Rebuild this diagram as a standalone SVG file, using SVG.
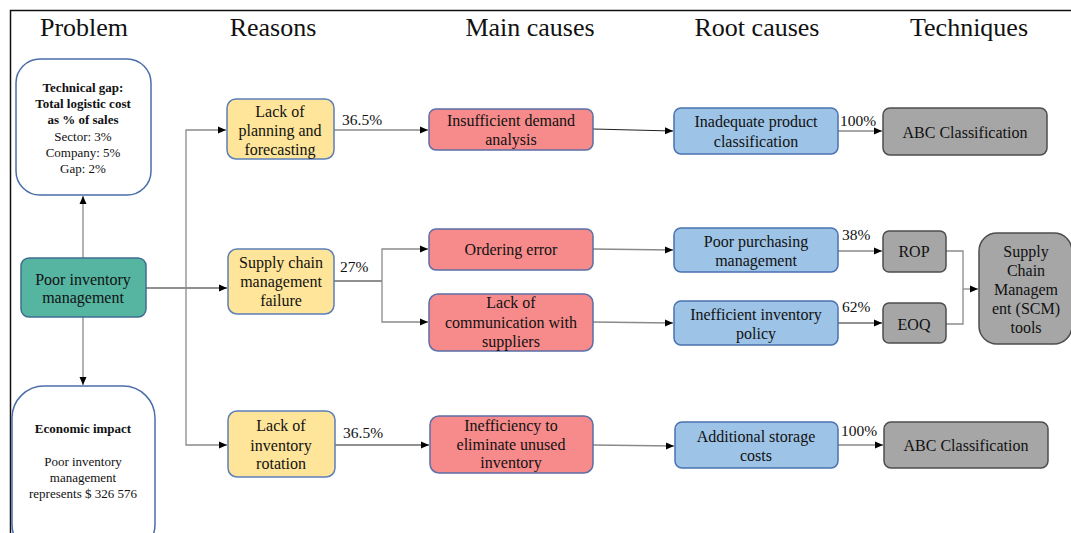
<svg xmlns="http://www.w3.org/2000/svg" width="1071" height="533" viewBox="0 0 1071 533">
<defs>
<marker id="ah" markerWidth="8" markerHeight="8" refX="8" refY="4" orient="auto" markerUnits="userSpaceOnUse"><path d="M0,0.5 L8,4 L0,7.5 z" fill="#000"/></marker>
<style>
text{font-family:"Liberation Serif","Times New Roman",serif;fill:#111;text-anchor:middle}
.h{font-size:26px}
.t{font-size:16px}
.s{font-size:13px}
.b{font-weight:bold}
.p{font-size:15.5px;text-anchor:start}
.white{fill:#fff;stroke:#4a6ea8;stroke-width:1.5}
.teal{fill:#55b5a1;stroke:#3f6d92;stroke-width:1.5}
.yel{fill:#ffe599;stroke:#5b7fb8;stroke-width:1.5}
.red{fill:#f78b8b;stroke:#5b6fa8;stroke-width:1.5}
.blue{fill:#9dc3e6;stroke:#4a72b0;stroke-width:1.5}
.gray{fill:#a6a6a6;stroke:#4d4d4d;stroke-width:1.5}
.c{fill:none;stroke:#8a8a8a;stroke-width:1.3}
.k{fill:none;stroke:#222;stroke-width:1.2}
</style>
</defs>
<rect x="0" y="0" width="1071" height="533" fill="#fff"/>
<path d="M10.5,533 V10.5 H1071" fill="none" stroke="#111" stroke-width="1.5"/>
<g id="headers">
<text class="h" x="84" y="36">Problem</text>
<text class="h" x="273" y="36">Reasons</text>
<text class="h" x="530" y="36">Main causes</text>
<text class="h" x="757" y="36">Root causes</text>
<text class="h" x="969" y="36">Techniques</text>
</g>
<g id="connectors">
<path class="c" d="M83,258 V196" marker-end="url(#ah)"/>
<path class="c" d="M83,317 V385" marker-end="url(#ah)"/>
<path class="k" d="M146,288 H227" marker-end="url(#ah)"/>
<path class="c" d="M186,288 V130 H226" marker-end="url(#ah)"/>
<path class="c" d="M186,288 V445 H227" marker-end="url(#ah)"/>
<path class="c" d="M334,130 H428" marker-end="url(#ah)"/>
<path class="k" d="M334,281 H382"/>
<path class="c" d="M382,281 V249 H428" marker-end="url(#ah)"/>
<path class="c" d="M382,281 V322 H428" marker-end="url(#ah)"/>
<path class="k" d="M335,445 H429" marker-end="url(#ah)"/>
<path class="k" d="M593,129 L673,131" marker-end="url(#ah)"/>
<path class="c" d="M593,249 L673,250" marker-end="url(#ah)"/>
<path class="c" d="M593,322 L673,323" marker-end="url(#ah)"/>
<path class="c" d="M593,445 L674,446" marker-end="url(#ah)"/>
<path class="c" d="M838,131 H882" marker-end="url(#ah)"/>
<path class="c" d="M838,251 H882" marker-end="url(#ah)"/>
<path class="k" d="M838,323 H882" marker-end="url(#ah)"/>
<path class="c" d="M838,445 H883" marker-end="url(#ah)"/>
<path class="c" d="M946,251 H963 V324 H946"/>
<path class="c" d="M963,289 H978" marker-end="url(#ah)"/>
<text class="p" x="342" y="125">36.5%</text>
<text class="p" x="340" y="272">27%</text>
<text class="p" x="343" y="438">36.5%</text>
<text class="p" x="840" y="126">100%</text>
<text class="p" x="842" y="240">38%</text>
<text class="p" x="842" y="312">62%</text>
<text class="p" x="841" y="436">100%</text>
</g>
<g id="tech-gap">
<rect class="white" x="16" y="59" width="135" height="136" rx="24"/>
<text class="s b" x="83" y="92">Technical gap:</text>
<text class="s b" x="83" y="108">Total logistic cost</text>
<text class="s b" x="83" y="124">as % of sales</text>
<text class="s" x="83" y="141">Sector: 3%</text>
<text class="s" x="83" y="157">Company: 5%</text>
<text class="s" x="83" y="173">Gap: 2%</text>
</g>
<g id="poor-inventory">
<rect class="teal" x="21" y="258" width="125" height="59" rx="8"/>
<text class="t" x="83" y="285">Poor inventory</text>
<text class="t" x="83" y="303">management</text>
</g>
<g id="economic-impact">
<rect class="white" x="12" y="386" width="143" height="170" rx="32"/>
<text class="s b" x="83" y="433">Economic impact</text>
<text class="s" x="83" y="466">Poor inventory</text>
<text class="s" x="83" y="482">management</text>
<text class="s" x="83" y="498">represents $ 326 576</text>
</g>
<g id="lack-planning">
<rect class="yel" x="227" y="99" width="107" height="60" rx="9"/>
<text class="t" x="280" y="117">Lack of</text>
<text class="t" x="280" y="136">planning and</text>
<text class="t" x="280" y="155">forecasting</text>
</g>
<g id="supply-chain-failure">
<rect class="yel" x="228" y="249" width="106" height="65" rx="9"/>
<text class="t" x="281" y="268">Supply chain</text>
<text class="t" x="281" y="287">management</text>
<text class="t" x="281" y="306">failure</text>
</g>
<g id="lack-rotation">
<rect class="yel" x="228" y="411" width="107" height="66" rx="9"/>
<text class="t" x="281" y="431">Lack of</text>
<text class="t" x="281" y="451">inventory</text>
<text class="t" x="281" y="469">rotation</text>
</g>
<g id="insufficient-demand">
<rect class="red" x="429" y="109" width="164" height="41" rx="7"/>
<text class="t" x="511" y="126">Insufficient demand</text>
<text class="t" x="511" y="145">analysis</text>
</g>
<g id="ordering-error">
<rect class="red" x="429" y="229" width="164" height="41" rx="7"/>
<text class="t" x="511" y="255">Ordering error</text>
</g>
<g id="lack-communication">
<rect class="red" x="429" y="294" width="164" height="57" rx="9"/>
<text class="t" x="511" y="308">Lack of</text>
<text class="t" x="511" y="328">communication with</text>
<text class="t" x="511" y="347">suppliers</text>
</g>
<g id="inefficiency-unused">
<rect class="red" x="430" y="416" width="163" height="57" rx="9"/>
<text class="t" x="511" y="431">Inefficiency to</text>
<text class="t" x="511" y="450">eliminate unused</text>
<text class="t" x="511" y="468">inventory</text>
</g>
<g id="inadequate-classification">
<rect class="blue" x="674" y="108" width="164" height="46" rx="7"/>
<text class="t" x="756" y="127">Inadequate product</text>
<text class="t" x="756" y="147">classification</text>
</g>
<g id="poor-purchasing">
<rect class="blue" x="674" y="228" width="164" height="44" rx="7"/>
<text class="t" x="756" y="247">Poor purchasing</text>
<text class="t" x="756" y="266">management</text>
</g>
<g id="inefficient-policy">
<rect class="blue" x="674" y="301" width="164" height="44" rx="7"/>
<text class="t" x="756" y="320">Inefficient inventory</text>
<text class="t" x="756" y="339">policy</text>
</g>
<g id="additional-storage">
<rect class="blue" x="675" y="422" width="163" height="46" rx="7"/>
<text class="t" x="756" y="442">Additional storage</text>
<text class="t" x="756" y="461">costs</text>
</g>
<g id="abc-top">
<rect class="gray" x="883" y="108" width="164" height="47" rx="7"/>
<text class="t" x="965" y="138">ABC Classification</text>
</g>
<g id="rop">
<rect class="gray" x="883" y="231" width="63" height="41" rx="6"/>
<text class="t" x="914" y="257">ROP</text>
</g>
<g id="eoq">
<rect class="gray" x="883" y="303" width="63" height="40" rx="6"/>
<text class="t" x="914" y="330">EOQ</text>
</g>
<g id="scm-tools">
<rect class="gray" x="979" y="233" width="93" height="111" rx="18"/>
<text class="t" x="1026" y="257">Supply</text>
<text class="t" x="1026" y="276">Chain</text>
<text class="t" x="1026" y="295">Managem</text>
<text class="t" x="1026" y="314">ent (SCM)</text>
<text class="t" x="1026" y="333">tools</text>
</g>
<g id="abc-bottom">
<rect class="gray" x="884" y="422" width="164" height="46" rx="7"/>
<text class="t" x="966" y="451">ABC Classification</text>
</g>
</svg>
